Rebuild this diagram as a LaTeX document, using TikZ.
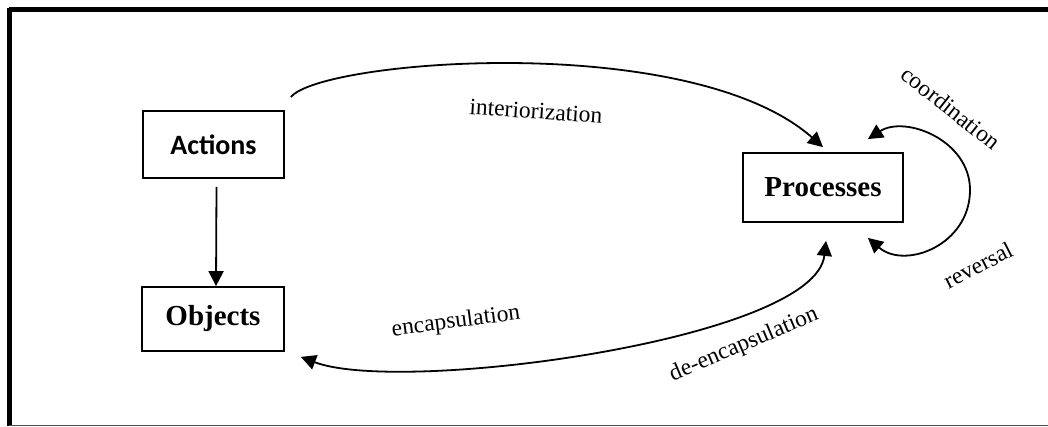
\documentclass[tikz,border=0pt]{standalone}
\usepackage{fontspec}
\setmainfont{Liberation Serif}
\newfontfamily\calib{Carlito}
\usetikzlibrary{arrows.meta}
\begin{document}
\begin{tikzpicture}[x=1pt,y=-1pt,
  box/.style={draw=black,line width=1.8pt,inner sep=0pt,minimum width=#1},
  arr/.style={line width=1.8pt,-{Triangle[length=15pt,width=15pt]}},
  darr/.style={line width=1.8pt,{Triangle[length=15pt,width=15pt]}-{Triangle[length=15pt,width=15pt]}},
  lbl/.style={font=\fontsize{23.5}{26}\selectfont,inner sep=0pt}]
\useasboundingbox (0,0) rectangle (1048,427);
\fill[white] (0,0) rectangle (1048,427);
% frame
\draw[line width=5pt] (9,10) -- (1048,10);
\draw[line width=5pt] (9,8) -- (9,426);
\draw[line width=1.5pt,black!70] (9,425.5) -- (1048,425.5);
% boxes
\node[box=141pt,minimum height=67pt,font=\calib\bfseries\fontsize{28}{32}\selectfont] (act) at (213.5,144.5) {Actions};
\node[box=142pt,minimum height=64pt,font=\bfseries\fontsize{29}{33}\selectfont] (obj) at (213,319) {Objects};
\node[box=160pt,minimum height=69pt,font=\bfseries\fontsize{29}{33}\selectfont] (proc) at (823,187.5) {Processes};
% connectors
\draw[arr] ([xshift=3pt,yshift=-8pt]act.south) -- ([xshift=3pt]obj.north);
\draw[arr] ([shift={(6pt,13pt)}]act.north east) .. controls (320,60) and (690,30) .. ([yshift=5pt]proc.north);
\draw[darr] ([shift={(16pt,-5pt)}]obj.south east) .. controls (400,395) and (815,340) .. ([xshift=3pt,yshift=-18pt]proc.south);
\draw[darr] ([shift={(-36pt,13pt)}]proc.north east) .. controls (905,115) and (970,140) .. (970,190)
   .. controls (970,245) and (905,270) .. ([shift={(-36pt,-15pt)}]proc.south east);
% labels
\node[lbl,rotate=-4] (l1) at (536,111) {interiorization};
\node[lbl,rotate=-38.5] (l2) at (951,108) {coordination};
\node[lbl,rotate=27] (l3) at (978,265) {reversal};
\node[lbl,rotate=7.5] (l4) at (456,322) {encapsulation};
\node[lbl,rotate=23] (l5) at (744,345) {de-encapsulation};
\end{tikzpicture}
\end{document}
